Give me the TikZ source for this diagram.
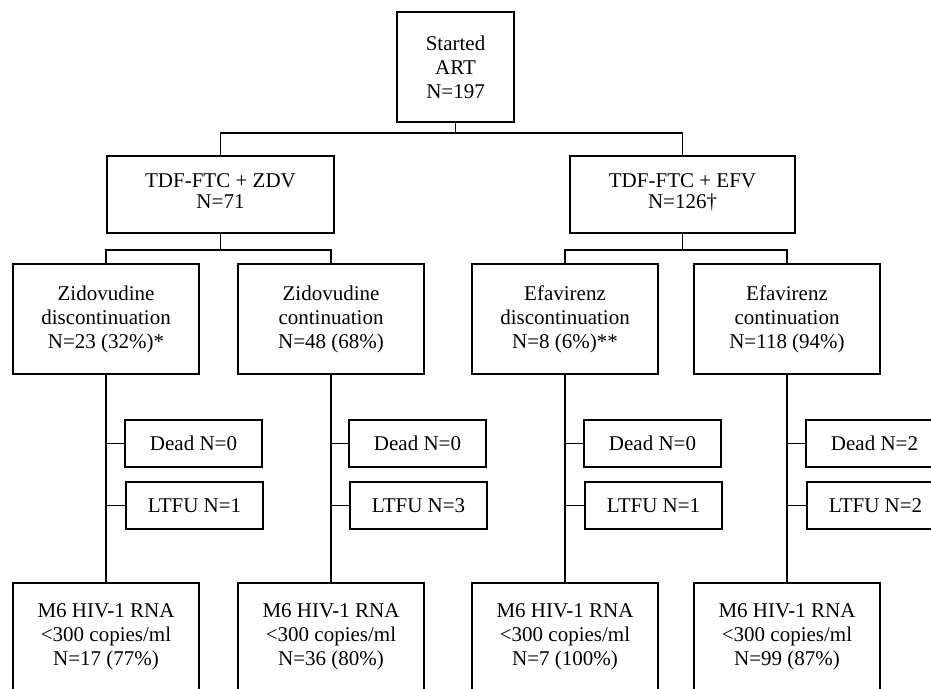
\documentclass[tikz,border=0pt]{standalone}
\usepackage{fontspec}
\setmainfont{Liberation Serif}
\begin{document}
\begin{tikzpicture}[x=1pt,y=-1pt,
  every node/.style={font=\fontsize{21}{24}\selectfont},
  box/.style={draw,line width=1.3pt,rectangle,align=center,inner sep=0pt},
  mainbox/.style={box,minimum width=186pt,minimum height=110pt},
  sidebox/.style={box,minimum width=137pt,minimum height=47pt},
  resbox/.style={box,minimum width=186pt,minimum height=108pt},
  conn/.style={line width=1.3pt}]
\useasboundingbox (0,0) rectangle (931,688);
\node[box,minimum width=117pt,minimum height=110pt] (top) at (455.5,67) {Started\\ART\\N=197};
\node[box,minimum width=227pt,minimum height=77pt] (L) at (220.5,194.5) {TDF-FTC + ZDV\\[-3pt]N=71\\[-17pt]};
\node[box,minimum width=225pt,minimum height=77pt] (R) at (682.5,194.5) {TDF-FTC + EFV\\[-3pt]N=126\textdagger\\[-17pt]};
\node[mainbox] (A) at (106,319) {Zidovudine\\discontinuation\\N=23 (32\%)*};
\node[mainbox] (B) at (331,319) {Zidovudine\\continuation\\N=48 (68\%)};
\node[mainbox] (C) at (565,319) {Efavirenz\\discontinuation\\N=8 (6\%)**};
\node[mainbox] (D) at (787,319) {Efavirenz\\continuation\\N=118 (94\%)};
\node[sidebox] (dA) at (193.5,443.5) {Dead N=0};
\node[sidebox] (lA) at (194.5,505.5) {LTFU N=1};
\node[sidebox] (dB) at (417.5,443.5) {Dead N=0};
\node[sidebox] (lB) at (418.5,505.5) {LTFU N=3};
\node[sidebox] (dC) at (652.5,443.5) {Dead N=0};
\node[sidebox] (lC) at (653.5,505.5) {LTFU N=1};
\node[sidebox] (dD) at (874.5,443.5) {Dead N=2};
\node[sidebox] (lD) at (875.5,505.5) {LTFU N=2};
\node[resbox] (rA) at (106,637) {M6 HIV-1 RNA\\<300 copies/ml\\N=17 (77\%)};
\node[resbox] (rB) at (331,637) {M6 HIV-1 RNA\\<300 copies/ml\\N=36 (80\%)};
\node[resbox] (rC) at (565,637) {M6 HIV-1 RNA\\<300 copies/ml\\N=7 (100\%)};
\node[resbox] (rD) at (787,637) {M6 HIV-1 RNA\\<300 copies/ml\\N=99 (87\%)};
\coordinate (j1) at (455.5,133);
\coordinate (j2) at (220.5,250);
\coordinate (j3) at (682.5,250);
\draw[conn] (top.south) -- (j1);
\draw[conn] (L.north) |- (j1) -| (R.north);
\draw[conn] (L.south) -- (j2);
\draw[conn] (A.north) |- (j2) -| (B.north);
\draw[conn] (R.south) -- (j3);
\draw[conn] (C.north) |- (j3) -| (D.north);
\foreach \m/\d/\l/\r in {A/dA/lA/rA,B/dB/lB/rB,C/dC/lC/rC,D/dD/lD/rD}{
  \draw[conn] (\m.south) -- (\r.north);
  \draw[conn] (\m.south |- \d.west) -- (\d.west);
  \draw[conn] (\m.south |- \l.west) -- (\l.west);
}
\end{tikzpicture}
\end{document}
